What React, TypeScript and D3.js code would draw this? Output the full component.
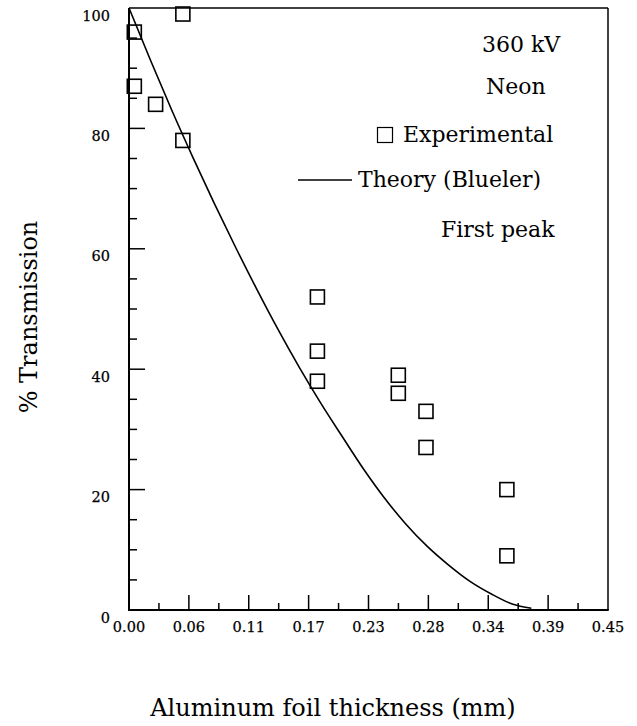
import React from "react";
import * as d3 from "d3";

// ---- data ----
const expThickness = [0.005, 0.005, 0.025, 0.0506, 0.0506, 0.177, 0.177, 0.177, 0.253, 0.253, 0.279, 0.279, 0.355, 0.355];
const expTransmission = [96, 87, 84, 99, 78, 52, 43, 38, 39, 36, 33, 27, 20, 9];

const theoryThickness = [0, 0.02, 0.04, 0.06, 0.08, 0.1, 0.12, 0.14, 0.16, 0.18, 0.2, 0.22, 0.24, 0.26, 0.28, 0.3, 0.32, 0.34, 0.36, 0.378];
const theoryTransmission = [100, 91.4, 83.1, 75.2, 67.6, 60.3, 53.3, 46.6, 40.3, 34.4, 28.9, 23.5, 18.6, 14.3, 10.6, 7.5, 4.8, 2.7, 1.0, 0.3];

const xTickLabels = ["0.00", "0.06", "0.11", "0.17", "0.23", "0.28", "0.34", "0.39", "0.45"];
const yTickLabels = ["0", "20", "40", "60", "80", "100"];

const legendLines = ["360 kV", "Neon", "Experimental", "Theory (Blueler)", "First peak"];

const W = 637;
const H = 726;
const left = 129, right = 608, top = 8, bottom = 610;
const FONT = "'DejaVu Serif', serif";

export default function App() {
  const x = d3.scaleLinear().domain([0, 0.45]).range([left, right]);
  const y = d3.scaleLinear().domain([0, 100]).range([bottom, top]);

  const xMajor = xTickLabels.map((_, i) => (i * 0.45) / (xTickLabels.length - 1));
  const xMinor = xMajor.slice(0, -1).map((v, i) => (v + xMajor[i + 1]) / 2);
  const yMajor = yTickLabels.map((t) => +t);
  const yMinor = d3.range(5, 100, 5).filter((v) => v % 20 !== 0);

  const line = d3
    .line<number>()
    .x((_, i) => x(theoryThickness[i]))
    .y((d) => y(d))
    .curve(d3.curveMonotoneX);

  const sq = 14;

  return (
    <svg width={W} height={H} style={{ position: "absolute", left: 0, top: 0, background: "#fff" }}>
      {/* frame */}
      <line x1={left} y1={top} x2={right} y2={top} stroke="#000" strokeWidth={1.5} />
      <line x1={right} y1={top} x2={right} y2={bottom} stroke="#000" strokeWidth={1.5} />
      <line x1={left} y1={top} x2={left} y2={bottom + 1} stroke="#000" strokeWidth={2} />
      <line x1={left - 1} y1={bottom} x2={right + 0.75} y2={bottom} stroke="#000" strokeWidth={2} />

      {/* x ticks */}
      {xMajor.slice(1, -1).map((v, i) => (
        <line key={"xM" + i} x1={x(v)} x2={x(v)} y1={bottom} y2={bottom - 15} stroke="#000" strokeWidth={1.5} />
      ))}
      {xMinor.map((v, i) => (
        <line key={"xm" + i} x1={x(v)} x2={x(v)} y1={bottom} y2={bottom - 7} stroke="#000" strokeWidth={1.5} />
      ))}
      {xMajor.map((v, i) => (
        <text key={"xl" + i} x={x(v)} y={632} textAnchor="middle" fontFamily={FONT} fontSize={14.5} stroke="#000" strokeWidth={0.25}>
          {xTickLabels[i]}
        </text>
      ))}

      {/* y ticks */}
      {yMajor.slice(1, -1).map((v, i) => (
        <line key={"yM" + i} x1={left} x2={left + 16} y1={y(v)} y2={y(v)} stroke="#000" strokeWidth={1.5} />
      ))}
      {yMinor.map((v, i) => (
        <line key={"ym" + i} x1={left} x2={left + 8} y1={y(v)} y2={y(v)} stroke="#000" strokeWidth={1.5} />
      ))}
      {yMajor.map((v, i) => (
        <text key={"yl" + i} x={110} y={y(v) + 12.5} textAnchor="end" fontFamily={FONT} fontSize={14.5} stroke="#000" strokeWidth={0.25}>
          {yTickLabels[i]}
        </text>
      ))}

      {/* theory curve */}
      <path d={line(theoryTransmission) || ""} fill="none" stroke="#000" strokeWidth={1.6} />

      {/* experimental points */}
      {expTransmission.map((v, i) => (
        <rect
          key={"p" + i}
          x={x(expThickness[i]) - sq / 2}
          y={y(v) - sq / 2}
          width={sq}
          height={sq}
          fill="none"
          stroke="#000"
          strokeWidth={1.6}
        />
      ))}

      {/* legend / annotations */}
      <g fontFamily={FONT} fontSize={22}>
        <text x={482} y={52}>{legendLines[0]}</text>
        <text x={486} y={94}>{legendLines[1]}</text>
        <rect x={377.5} y={127.5} width={15} height={15} fill="none" stroke="#000" strokeWidth={1.2} />
        <text x={403} y={142}>{legendLines[2]}</text>
        <line x1={298} x2={352} y1={180} y2={180} stroke="#000" strokeWidth={1.5} />
        <text x={358} y={187}>{legendLines[3]}</text>
        <text x={441} y={237}>{legendLines[4]}</text>
      </g>

      {/* axis titles */}
      <text x={333} y={716} textAnchor="middle" fontFamily={FONT} fontSize={24}>
        Aluminum foil thickness (mm)
      </text>
      <text
        transform="translate(37,317) rotate(-90)"
        textAnchor="middle"
        fontFamily={FONT}
        fontSize={24}
      >
        % Transmission
      </text>
    </svg>
  );
}
